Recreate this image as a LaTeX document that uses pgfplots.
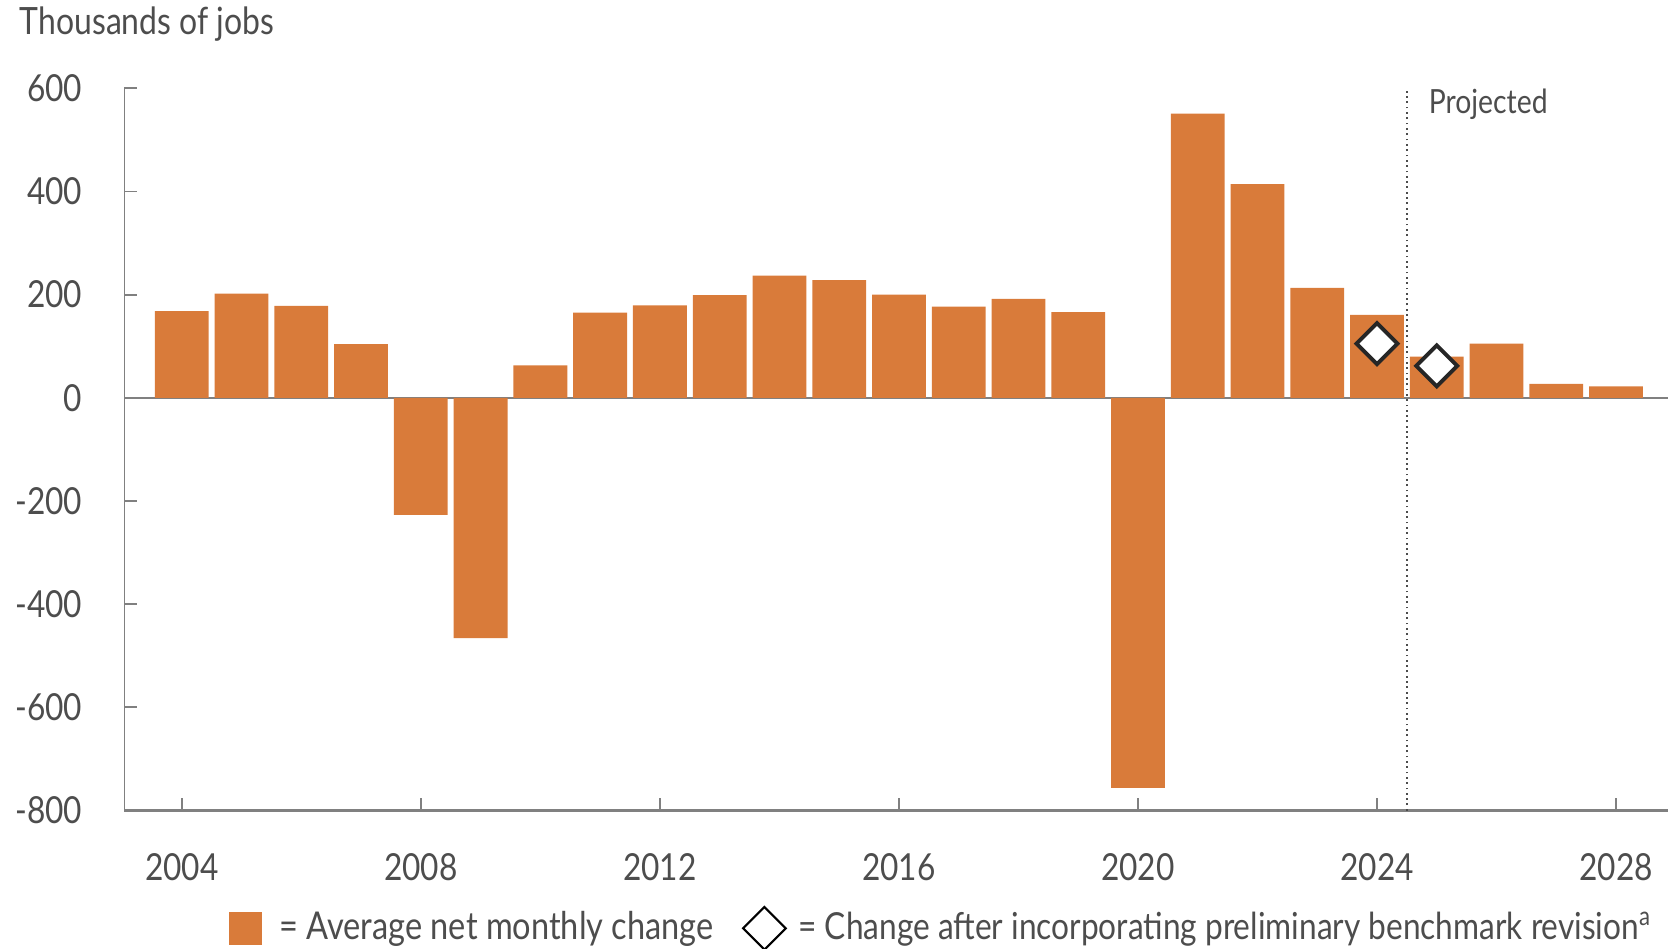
\documentclass[border=0pt]{standalone}
\usepackage{fontspec}
\setmainfont{Lato}[FakeStretch=0.85]
\usepackage{pgfplots}
\usepackage{pgfplotstable}
\pgfplotsset{compat=1.18}
\definecolor{barorange}{RGB}{217,123,58}
\definecolor{textgray}{RGB}{77,77,77}
\definecolor{axisgray}{RGB}{128,128,128}

\pgfplotstableread{
year val
2004 168
2005 202
2006 178
2007 104
2008 -227
2009 -466
2010 63
2011 165
2012 179
2013 199
2014 237
2015 228
2016 200
2017 177
2018 192
2019 166
2020 -756
2021 551
2022 414
2023 213
2024 161
2025 80
2026 105
2027 27
2028 22
}\jobs

\pgfplotstableread{
year val
2024 105
2025 62
}\revised

\begin{document}
\begin{tikzpicture}
\begin{axis}[
  scale only axis, width=435.3pt, height=203.7pt,
  xmin=2003.04, xmax=2028.87, ymin=-800, ymax=600,
  enlargelimits=false, clip=false,
  axis x line=bottom, axis y line=left,
  axis line style={-, draw=axisgray},
  x axis line style={line width=0.9pt},
  y axis line style={line width=0.5pt},
  xtick={2004,2008,...,2028}, xticklabels={2004,2008,2012,2016,2020,2024,2028},
  ytick={-800,-600,...,600}, yticklabels={-800,-600,-400,-200,0,200,400,600},
  tick align=inside, major tick length=3.6pt,
  tick style={draw=axisgray, line width=0.5pt},
  ticklabel style={font=\fontsize{10.5}{12}\selectfont, text=textgray, inner sep=0pt},
  xticklabel style={anchor=center, yshift=-15.9pt},
  yticklabel style={anchor=east, xshift=-11.7pt},
  extra y ticks={0}, extra y tick labels={},
  extra y tick style={grid=major, major grid style={draw=axisgray, line width=0.6pt}, major tick length=0pt},
  legend columns=2,
  legend style={at={(0,0)}, anchor=west, xshift=29.4pt, yshift=-33.2pt,
    draw=none, fill=none, inner sep=0pt, column sep=0pt,
    nodes={inner sep=0pt, text=textgray, font=\fontsize{10.8}{13}\selectfont},
    cells={anchor=west}},
]
\addplot[ybar, bar width=0.9, bar shift=0pt, fill=barorange, draw=none,
  legend image code/.code={\fill[barorange] (0pt,-4.65pt) rectangle (9.3pt,4.65pt);}]
  table[x=year, y=val] {\jobs};
\addlegendentry{\kern4.8pt= Average net monthly change\kern8pt}
\addplot[only marks, mark=square*, mark size=4.1pt,
  mark options={rotate=45, fill=white, draw=black!85, line width=1.1pt},
  legend image code/.code={\draw[draw=black, line width=0.6pt, fill=white] (0pt,0pt) -- (6pt,6pt) -- (12pt,0pt) -- (6pt,-6pt) -- cycle;}]
  table[x=year, y=val] {\revised};
\addlegendentry{\fontsize{10.5}{13}\selectfont\kern3.3pt= Change after incorporating preliminary benchmark revision\textsuperscript{a}}
\draw[densely dotted, line width=0.5pt, black!70] (axis cs:2024.5,-800) -- (axis cs:2024.5,600);
\node[anchor=base west, inner sep=0pt, text=textgray, font=\fontsize{9.4}{11}\selectfont]
  at ([xshift=6pt,yshift=-7.05pt]axis cs:2024.5,600) {Projected};
\coordinate (SW) at (rel axis cs:0,0);
\coordinate (NE) at (rel axis cs:1,1);
\coordinate (NW) at (rel axis cs:0,1);
\end{axis}
\node[anchor=base west, inner sep=0pt, text=textgray, font=\fontsize{10.6}{12}\selectfont]
  at ([xshift=-29.7pt,yshift=15.2pt]NW) {Thousands of jobs};
\pgfresetboundingbox
\path[use as bounding box] ([xshift=-35.1pt,yshift=-39pt]SW) rectangle ([yshift=24.9pt]NE);
\end{tikzpicture}
\end{document}
